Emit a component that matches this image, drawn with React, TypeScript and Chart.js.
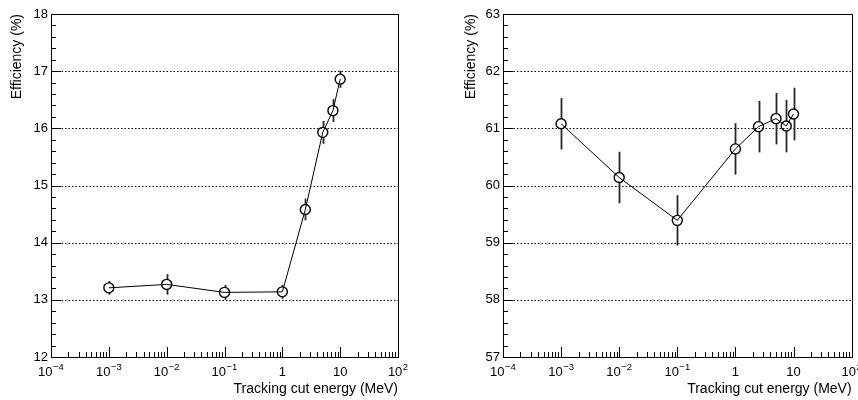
import React, { useEffect, useRef } from "react";
import { Chart, registerables } from "chart.js";

Chart.register(...registerables);

// ---- data ----
const energies = [0.001, 0.01, 0.1, 1, 2.5, 5, 7.5, 10];
const leftEff = [13.21, 13.27, 13.13, 13.14, 14.58, 15.93, 16.31, 16.86];
const leftErr = [0.12, 0.18, 0.13, 0.12, 0.19, 0.2, 0.2, 0.15];
const rightEff = [61.08, 60.14, 59.39, 60.64, 61.03, 61.17, 61.04, 61.25];
const rightErr = [0.45, 0.45, 0.44, 0.45, 0.45, 0.45, 0.46, 0.46];
const leftYRange = [12, 18];
const rightYRange = [57, 63];
const xRange = [1e-4, 100];
const xMajorTicks = [1e-4, 1e-3, 1e-2, 1e-1, 1, 10, 100];
const xTickBase = ["10", "10", "10", "10", "1", "10", "10"];
const xTickExp = ["\u22124", "\u22123", "\u22122", "\u22121", "", "", "2"];
const yTitle = "Efficiency (%)";
const xTitle = "Tracking cut energy (MeV)";

const FONT = "'Liberation Sans', Arial, Helvetica, sans-serif";
const MARKER_R = 5;

const rootStyle = {
  id: "rootStyle",
  beforeDatasetsDraw(chart: any, _args: any, opts: any) {
    const { ctx, chartArea: a, scales } = chart;
    const x = scales.x;
    const y = scales.y;
    ctx.save();
    // dotted horizontal grid at major y ticks
    ctx.strokeStyle = "#000";
    ctx.lineWidth = 1;
    ctx.setLineDash([1.5, 2]);
    y.ticks.forEach((t: any) => {
      if (t.value <= y.min || t.value >= y.max) return;
      const py = Math.round(y.getPixelForValue(t.value)) + 0.5;
      ctx.beginPath();
      ctx.moveTo(a.left, py);
      ctx.lineTo(a.right, py);
      ctx.stroke();
    });
    ctx.setLineDash([]);
    // error bars (drawn outside the open marker)
    const ds = chart.data.datasets[0];
    const errs: number[] = opts.errors || [];
    ctx.strokeStyle = "#262626";
    ctx.lineWidth = 1.8;
    ds.data.forEach((p: any, i: number) => {
      const px = Math.round(x.getPixelForValue(p.x)) + 0.5;
      const pc = y.getPixelForValue(p.y);
      const yLo = y.getPixelForValue(p.y - errs[i]);
      const yHi = y.getPixelForValue(p.y + errs[i]);
      if (pc - MARKER_R > yHi) {
        ctx.beginPath();
        ctx.moveTo(px, yHi);
        ctx.lineTo(px, pc - MARKER_R);
        ctx.stroke();
      }
      if (pc + MARKER_R < yLo) {
        ctx.beginPath();
        ctx.moveTo(px, pc + MARKER_R);
        ctx.lineTo(px, yLo);
        ctx.stroke();
      }
    });
    ctx.restore();
  },
  afterDatasetsDraw(chart: any) {
    const { ctx, chartArea: a, scales } = chart;
    const x = scales.x;
    const y = scales.y;
    ctx.save();
    ctx.strokeStyle = "#000";
    ctx.lineWidth = 1;
    // frame
    ctx.strokeRect(
      Math.round(a.left) + 0.5,
      Math.round(a.top) + 0.5,
      Math.round(a.right - a.left),
      Math.round(a.bottom - a.top)
    );
    // y ticks (inward), 5 subdivisions
    const nSub = Math.round((y.max - y.min) * 5);
    for (let i = 0; i <= nSub; i++) {
      const v = y.min + i / 5;
      const py = Math.round(y.getPixelForValue(v)) + 0.5;
      const len = i % 5 === 0 ? 10 : 5;
      ctx.beginPath();
      ctx.moveTo(a.left, py);
      ctx.lineTo(a.left + len, py);
      ctx.stroke();
    }
    // x ticks (inward), logarithmic
    const lo = Math.round(Math.log10(x.min));
    const hi = Math.round(Math.log10(x.max));
    for (let d = lo; d <= hi; d++) {
      for (let k = 1; k <= 9; k++) {
        const v = k * Math.pow(10, d);
        if (v > x.max * 1.0001) break;
        const px = Math.round(x.getPixelForValue(v)) + 0.5;
        const len = k === 1 ? 10 : 5;
        ctx.beginPath();
        ctx.moveTo(px, a.bottom);
        ctx.lineTo(px, a.bottom - len);
        ctx.stroke();
      }
    }
    // x tick labels with superscript exponents
    ctx.fillStyle = "#000";
    ctx.textBaseline = "alphabetic";
    ctx.textAlign = "left";
    xMajorTicks.forEach((v, i) => {
      const px = x.getPixelForValue(v);
      ctx.font = `13px ${FONT}`;
      const wb = ctx.measureText(xTickBase[i]).width;
      ctx.font = `9.5px ${FONT}`;
      const we = xTickExp[i] ? ctx.measureText(xTickExp[i]).width + 0.5 : 0;
      const start = px - (wb + we) / 2;
      ctx.font = `13px ${FONT}`;
      ctx.fillText(xTickBase[i], start, a.bottom + 19);
      if (xTickExp[i]) {
        ctx.font = `9.5px ${FONT}`;
        ctx.fillText(xTickExp[i], start + wb + 0.5, a.bottom + 12.5);
      }
    });
    ctx.restore();
  },
};

type PanelProps = {
  values: number[];
  errors: number[];
  yRange: number[];
  yAxisWidth: number;
  padRight: number;
  yTitlePad: number;
};

function Panel({ values, errors, yRange, yAxisWidth, padRight, yTitlePad }: PanelProps) {
  const ref = useRef<HTMLCanvasElement>(null);
  useEffect(() => {
    const points = energies.map((e, i) => ({ x: e, y: values[i] }));
    const chart = new Chart(ref.current as HTMLCanvasElement, {
      type: "scatter",
      data: {
        datasets: [
          {
            data: points,
            showLine: true,
            borderColor: "#000",
            borderWidth: 1,
            pointRadius: MARKER_R,
            pointHoverRadius: MARKER_R,
            pointBorderWidth: 1.4,
            pointBorderColor: "#000",
            pointBackgroundColor: "rgba(0,0,0,0)",
            pointStyle: "circle",
          },
        ],
      },
      options: {
        animation: false,
        responsive: false,
        maintainAspectRatio: false,
        events: [],
        layout: { padding: { top: 14, right: padRight, left: 0, bottom: 0 } },
        plugins: {
          legend: { display: false },
          tooltip: { enabled: false },
          rootStyle: { errors },
        } as any,
        scales: {
          x: {
            type: "logarithmic",
            min: xRange[0],
            max: xRange[1],
            ticks: { display: false },
            grid: { display: false, drawTicks: false },
            border: { display: false },
            title: {
              display: true,
              text: xTitle,
              align: "end",
              color: "#000",
              font: { size: 14, family: FONT },
              padding: { top: 0, bottom: 2 },
            },
            afterFit: (s: any) => {
              s.height = 43;
            },
          },
          y: {
            type: "linear",
            min: yRange[0],
            max: yRange[1],
            ticks: {
              stepSize: 1,
              padding: 3,
              color: "#000",
              font: { size: 13, family: FONT },
            },
            grid: { display: false, drawTicks: false },
            border: { display: false },
            title: {
              display: true,
              text: yTitle,
              align: "end",
              color: "#000",
              font: { size: 14, family: FONT },
              padding: { top: yTitlePad, bottom: 0 },
            },
            afterFit: (s: any) => {
              s.width = yAxisWidth;
            },
          },
        },
      } as any,
      plugins: [rootStyle as any],
    });
    return () => chart.destroy();
  }, []);
  return (
    <canvas
      ref={ref}
      width={429}
      height={400}
      style={{ display: "block", width: 429, height: 400 }}
    />
  );
}

export default function App() {
  return (
    <div
      style={{
        position: "fixed",
        left: 0,
        top: 0,
        width: 858,
        height: 400,
        display: "flex",
        background: "#fff",
      }}
    >
      <Panel values={leftEff} errors={leftErr} yRange={leftYRange} yAxisWidth={51} padRight={31} yTitlePad={9} />
      <Panel values={rightEff} errors={rightErr} yRange={rightYRange} yAxisWidth={74} padRight={6} yTitlePad={34} />
    </div>
  );
}
